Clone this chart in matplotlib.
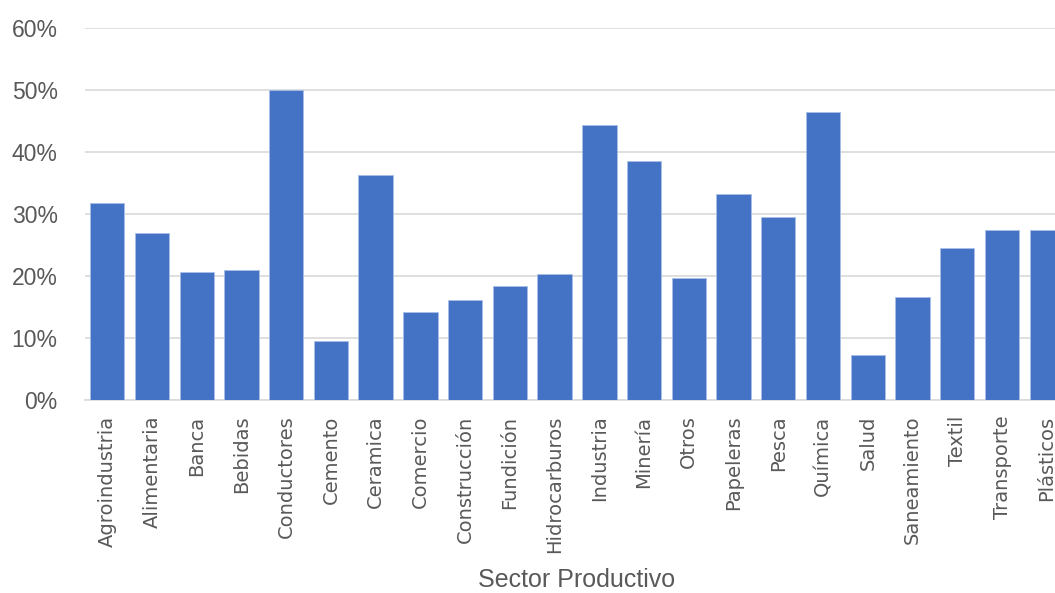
#!/usr/bin/env python3

import matplotlib
matplotlib.use("Agg")
import matplotlib.pyplot as plt
from matplotlib.ticker import FuncFormatter, MultipleLocator

sectors = [
    "Agroindustria", "Alimentaria", "Banca", "Bebidas", "Conductores",
    "Cemento", "Ceramica", "Comercio", "Construcción", "Fundición",
    "Hidrocarburos", "Industria", "Minería", "Otros", "Papeleras",
    "Pesca", "Química", "Salud", "Saneamiento", "Textil",
    "Transporte", "Plásticos",
]
shares = [
    0.318, 0.269, 0.207, 0.210, 0.500,
    0.096, 0.363, 0.142, 0.162, 0.184,
    0.204, 0.444, 0.385, 0.197, 0.333,
    0.296, 0.465, 0.073, 0.166, 0.245,
    0.275, 0.274,
]

fig = plt.figure(figsize=(10.55, 5.93), dpi=100)
ax = fig.add_axes([0.0804, 0.325, 0.933, 0.628])

x = range(len(sectors))
ax.bar(x, shares, width=0.767, color="#4472C4", edgecolor="#A9BEE6",
       linewidth=0.6, zorder=3)

ax.set_xlim(-0.5, len(sectors) - 0.5)
ax.set_ylim(0, 0.6)
ax.yaxis.set_major_locator(MultipleLocator(0.1))
ax.yaxis.set_major_formatter(FuncFormatter(lambda v, _: f"{v * 100:.0f}%"))
ax.grid(axis="y", color="#D9D9D9", linewidth=1.2, zorder=0)

for side in ["top", "right", "left"]:
    ax.spines[side].set_visible(False)
ax.spines["bottom"].set_color("#D9D9D9")
ax.spines["bottom"].set_linewidth(1.2)

ax.set_xticks(list(x))
ax.set_xticklabels(sectors, rotation=90, fontsize=14, color="#595959",
                   family="DejaVu Sans")
ax.tick_params(axis="x", length=0, pad=11)
ax.tick_params(axis="y", length=0, pad=19.5, labelcolor="#595959")
for lbl in ax.get_yticklabels():
    lbl.set_fontfamily("Liberation Sans")
    lbl.set_fontsize(16.5)

ax.set_xlabel("Sector Productivo", fontsize=18, color="#595959",
              family="Liberation Sans", va="center")
ax.xaxis.set_label_coords(0.5, -0.482)

fig.savefig("out.png", dpi=100)
